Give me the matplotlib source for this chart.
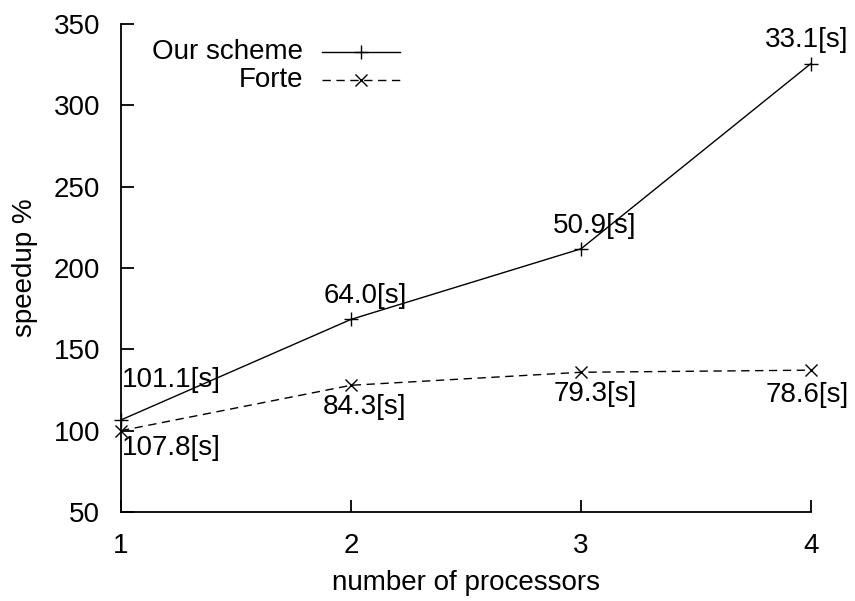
import matplotlib
matplotlib.use('Agg')
import matplotlib.pyplot as plt
from matplotlib.lines import Line2D

plt.rcParams['font.family'] = ['Liberation Sans', 'DejaVu Sans']

procs = [1, 2, 3, 4]
ours = [106.6, 168.4, 211.8, 325.7]
forte = [100.0, 127.9, 135.9, 137.2]
ours_time = ['101.1[s]', '64.0[s]', '50.9[s]', '33.1[s]']
forte_time = ['107.8[s]', '84.3[s]', '79.3[s]', '78.6[s]']

FS = 20

fig = plt.figure(figsize=(8.55, 6.01), dpi=100)
ax = fig.add_axes([121/855, 1-512/601, 690/855, 488/601])

ax.plot(procs, ours, '-', color='black', lw=1.0, marker='+', ms=10, mew=1.0, clip_on=False)
ax.plot(procs, forte, '--', color='black', lw=1.0, marker='x', ms=9, mew=1.0,
        dashes=(6, 4), clip_on=False)

# time labels above / below each point (offsets in pixels)
ours_off = [(1, 40), (14, 23), (14, 23), (-4, 24)]
ours_ha = ['left', 'center', 'center', 'center']
forte_off = [(1, -17), (14, -22), (14, -22), (-4, -25)]
forte_ha = ['left', 'center', 'center', 'center']
for i in range(len(procs)):
    ax.annotate(ours_time[i], (procs[i], ours[i]), xytext=ours_off[i],
                textcoords='offset pixels', ha=ours_ha[i], va='center', fontsize=FS)
    ax.annotate(forte_time[i], (procs[i], forte[i]), xytext=forte_off[i],
                textcoords='offset pixels', ha=forte_ha[i], va='center', fontsize=FS)

ax.set_xlim(1, 4)
ax.set_ylim(50, 350)
ax.set_xticks(procs)
ax.set_yticks([50, 100, 150, 200, 250, 300, 350])
ax.spines['top'].set_visible(False)
ax.spines['right'].set_visible(False)
for s in ('left', 'bottom'):
    ax.spines[s].set_linewidth(1.3)
ax.tick_params(direction='in', length=9, width=1.3, labelsize=FS, pad=15)
ax.set_xlabel('number of processors', fontsize=FS, labelpad=8)
ax.set_ylabel('speedup %', fontsize=FS, labelpad=11)

# key in the upper left, text right-aligned before the samples
key = [('Our scheme', '-', '+', 9), ('Forte', '--', 'x', 8)]
ys = [1 - (52 - 24) / 488, 1 - (80 - 24) / 488]
x0, x1, xt = (322 - 121) / 690, (400 - 121) / 690, (303 - 121) / 690
for (name, ls, mk, ms), y in zip(key, ys):
    ax.add_line(Line2D([x0, x1], [y, y], transform=ax.transAxes, color='black',
                       lw=1.0, ls=ls, dashes=(6, 4) if ls == '--' else (None, None), clip_on=False))
    ax.add_line(Line2D([(x0 + x1) / 2], [y], transform=ax.transAxes, color='black',
                       marker=mk, ms=ms + 1, mew=1.0, ls='none', clip_on=False))
    ax.text(xt, y, name, transform=ax.transAxes, ha='right', va='center', fontsize=FS)

fig.savefig('out.png', dpi=100)
